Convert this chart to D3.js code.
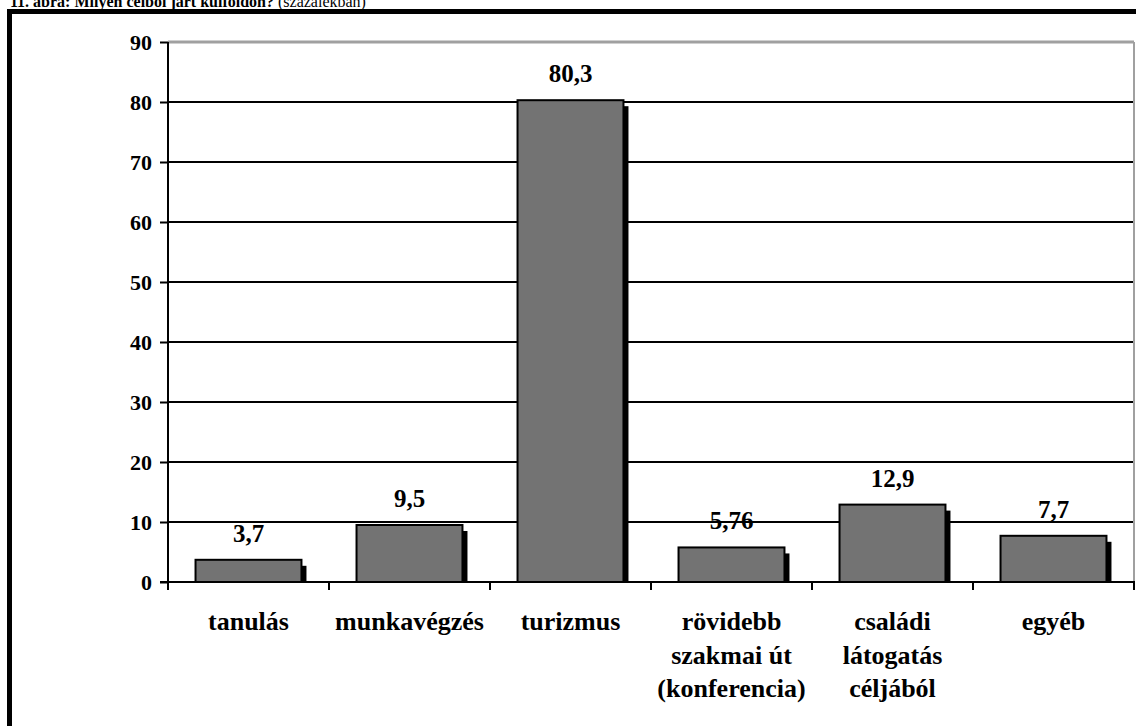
<!DOCTYPE html>
<html>
<head>
<meta charset="utf-8">
<script src="https://cdn.jsdelivr.net/npm/d3@7"></script>
<style>
  html, body { margin: 0; padding: 0; background: #fff; }
  svg { display: block; }
  text { font-family: "Liberation Serif", "Times New Roman", serif; font-weight: bold; fill: #000; }
</style>
</head>
<body>
<svg id="chart" width="1136" height="726"></svg>
<script>
// Purpose of travel abroad (percent)
const categories = [
  ["tanulás"],
  ["munkavégzés"],
  ["turizmus"],
  ["rövidebb", "szakmai út", "(konferencia)"],
  ["családi", "látogatás", "céljából"],
  ["egyéb"]
];
const values = [3.7, 9.5, 80.3, 5.76, 12.9, 7.7];
const valueLabels = ["3,7", "9,5", "80,3", "5,76", "12,9", "7,7"];
const yTicks = [0, 10, 20, 30, 40, 50, 60, 70, 80, 90];

const svg = d3.select("#chart");
const W = 1136, H = 726;

svg.append("rect").attr("width", W).attr("height", H).attr("fill", "#fff");

// Caption (runs off the top edge of the page)
const title = svg.append("text")
  .attr("x", 10).attr("y", 7)
  .style("font-size", "16px");
title.append("tspan").text("11. ábra: Milyen célból járt külföldön?");
title.append("tspan").style("font-weight", "normal").text(" (százalékban)");

// Outer frame: thick black top and left rules
svg.append("line").attr("x1", 7).attr("x2", W).attr("y1", 11.5).attr("y2", 11.5)
  .attr("stroke", "#000").attr("stroke-width", 5);
svg.append("line").attr("x1", 9.5).attr("x2", 9.5).attr("y1", 9).attr("y2", H)
  .attr("stroke", "#000").attr("stroke-width", 5);

const plotL = 168, plotR = 1134, plotT = 42, plotB = 582;

const x = d3.scaleBand()
  .domain(d3.range(categories.length))
  .range([plotL, plotR])
  .paddingInner(0.342)
  .paddingOuter(0.171);

const y = d3.scaleLinear().domain([0, 90]).range([plotB, plotT]);

// Horizontal grid lines
svg.append("g").selectAll("line")
  .data(yTicks.filter(d => d > 0))
  .join("line")
  .attr("x1", plotL).attr("x2", plotR)
  .attr("y1", d => y(d)).attr("y2", d => y(d))
  .attr("stroke", d => d === 90 ? "#a0a0a0" : "#000")
  .attr("stroke-width", d => d === 90 ? 3 : 2);

// Right edge of the plot area
svg.append("line").attr("x1", plotR).attr("x2", plotR).attr("y1", plotT).attr("y2", plotB)
  .attr("stroke", "#a0a0a0").attr("stroke-width", 2);

// Bars with a dark drop shadow
const sdx = 5, sdy = 6;
const bars = svg.append("g");
bars.selectAll("rect.shadow")
  .data(values)
  .join("rect")
  .attr("class", "shadow")
  .attr("x", (d, i) => x(i) + sdx)
  .attr("y", d => y(d) + sdy)
  .attr("width", x.bandwidth())
  .attr("height", d => Math.max(0, y(0) - y(d) - sdy))
  .attr("fill", "#000");
bars.selectAll("rect.bar")
  .data(values)
  .join("rect")
  .attr("class", "bar")
  .attr("x", (d, i) => x(i))
  .attr("y", d => y(d))
  .attr("width", x.bandwidth())
  .attr("height", d => y(0) - y(d))
  .attr("fill", "#737373")
  .attr("stroke", "#000")
  .attr("stroke-width", 2);

// Value labels
svg.append("g").selectAll("text")
  .data(values)
  .join("text")
  .attr("x", (d, i) => x(i) + x.bandwidth() / 2)
  .attr("y", d => y(d) - 18)
  .attr("text-anchor", "middle")
  .style("font-size", "25px")
  .text((d, i) => valueLabels[i]);

// Y axis
const yAxis = svg.append("g")
  .attr("transform", `translate(${plotL},0)`)
  .call(d3.axisLeft(y).tickValues(yTicks).tickSize(8).tickPadding(8).tickFormat(d3.format("d")));
yAxis.select(".domain").remove();
yAxis.append("line").attr("x1", 0).attr("x2", 0).attr("y1", plotT).attr("y2", plotB + 8)
  .attr("stroke", "#000").attr("stroke-width", 2);
yAxis.selectAll(".tick line").attr("stroke", "#000").attr("stroke-width", 2);
yAxis.selectAll(".tick text").style("font-size", "22px")
  .style("font-family", "'Liberation Serif', 'Times New Roman', serif").style("font-weight", "bold")
  .attr("fill", "#000");

// X axis baseline and category dividers
const xg = svg.append("g");
xg.append("line").attr("x1", plotL - 8).attr("x2", plotR + 1).attr("y1", plotB).attr("y2", plotB)
  .attr("stroke", "#000").attr("stroke-width", 2);
const bounds = d3.range(categories.length + 1).map(i => plotL + i * x.step());
xg.selectAll("line.div")
  .data(bounds)
  .join("line")
  .attr("class", "div")
  .attr("x1", d => d).attr("x2", d => d)
  .attr("y1", plotB).attr("y2", plotB + 8)
  .attr("stroke", "#000").attr("stroke-width", 2);

// Category labels (multi-line)
const cat = xg.selectAll("text.cat")
  .data(categories)
  .join("text")
  .attr("class", "cat")
  .attr("text-anchor", "middle")
  .attr("x", (d, i) => x(i) + x.bandwidth() / 2)
  .attr("y", 630)
  .style("font-size", "26px");
cat.selectAll("tspan")
  .data(d => d)
  .join("tspan")
  .attr("x", function () { return d3.select(this.parentNode).attr("x"); })
  .attr("dy", (d, i) => i === 0 ? 0 : 33.5)
  .text(d => d);
</script>
</body>
</html>
